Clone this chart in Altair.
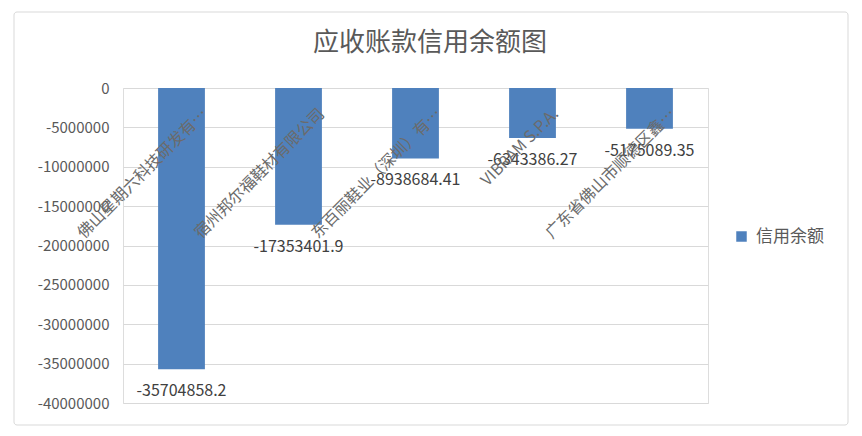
import altair as alt
import pandas as pd

title_text = "应收账款信用余额图"
categories = [
    "佛山星期六科技研发有…",
    "宿州邦尔福鞋材有限公司",
    "东百丽鞋业（深圳）有…",
    "VIBRAM S.P.A.",
    "广东省佛山市顺德区鑫…",
]
values = [-35704858.2, -17353401.9, -8938684.41, -6343386.27, -5175089.35]
value_labels = ["-35704858.2", "-17353401.9", "-8938684.41", "-6343386.27", "-5175089.35"]
series_name = "信用余额"
y_ticks = [0, -5000000, -10000000, -15000000, -20000000, -25000000, -30000000, -35000000, -40000000]

df = pd.DataFrame({"cat": categories, "val": values, "lbl": value_labels, "series": [series_name] * len(categories)})

FONT = "Noto Sans CJK SC"
GRAY = "#595959"
BLUE = "#4f81bd"

xscale = alt.Scale(paddingInner=0.6, paddingOuter=0.3)
yscale = alt.Scale(domain=[-40000000, 0], nice=False)

yaxis = alt.Axis(
    values=y_ticks, tickCount=9, labelExpr="'' + datum.value", title=None, domain=False, ticks=False,
    labelOverlap=False, labelPadding=14, labelFontSize=15, labelColor=GRAY, labelFont=FONT,
    gridColor="#d9d9d9", gridWidth=1)

base = alt.Chart(df)

bars = base.mark_bar(color=BLUE).encode(
    x=alt.X("cat:N", sort=None, scale=xscale, axis=None),
    y=alt.Y("val:Q", scale=yscale, axis=yaxis),
    y2=alt.datum(0),
    color=alt.Color("series:N", scale=alt.Scale(range=[BLUE]), legend=alt.Legend(
        title=None, orient="none", legendX=610, legendY=140, symbolType="square",
        symbolSize=110, symbolStrokeWidth=0, labelFontSize=17, labelColor=GRAY,
        labelFont=FONT, labelOffset=6)),
)

data_labels = base.mark_text(baseline="middle", align="center", dy=22, fontSize=16, color="#404040", font=FONT).encode(
    x=alt.X("cat:N", sort=None, scale=xscale, axis=None),
    y=alt.Y("val:Q", scale=yscale, axis=yaxis),
    text="lbl:N",
)

cat_labels = base.mark_text(angle=315, align="right", baseline="middle", dy=33, fontSize=16, color="#6b6b6b", font=FONT).encode(
    x=alt.X("cat:N", sort=None, scale=xscale, axis=None),
    y=alt.datum(0, scale=yscale, axis=yaxis),
    text="cat:N",
)

border = alt.Chart(pd.DataFrame({"a": [0]})).mark_rect(
    fill=None, stroke="#d9d9d9", strokeWidth=1, cornerRadius=3
).encode(
    x=alt.value(-109), x2=alt.value(725), y=alt.value(-76), y2=alt.value(337)
)

title = alt.Chart(pd.DataFrame({"t": [title_text]})).mark_text(
    fontSize=26, color=GRAY, font=FONT, align="center", baseline="middle"
).encode(x=alt.value(307), y=alt.value(-45), text="t:N")

chart = alt.layer(border, title, bars, data_labels, cat_labels).properties(
    width=585,
    height=315,
    autosize=alt.AutoSizeParams(type="none"),
    padding={"left": 115, "top": 80, "right": 146, "bottom": 25},
).configure_view(stroke=None).configure(background="white")

chart.save("out.html", embed_options={"renderer": "svg", "actions": False})
